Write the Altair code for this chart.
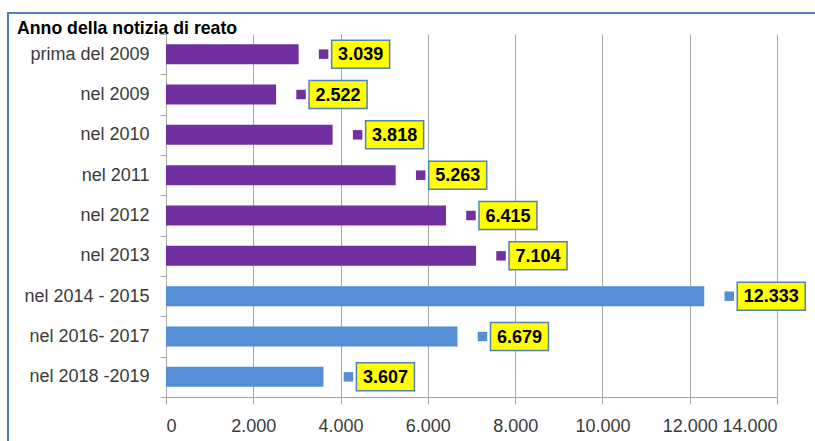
import altair as alt
import pandas as pd

# ---- data ----
categories = ["prima del 2009", "nel 2009", "nel 2010", "nel 2011", "nel 2012",
              "nel 2013", "nel 2014 - 2015", "nel 2016- 2017", "nel 2018 -2019"]
values = [3039, 2522, 3818, 5263, 6415, 7104, 12333, 6679, 3607]
groups = ["prima", "prima", "prima", "prima", "prima", "prima", "dopo", "dopo", "dopo"]
x_ticks = [0, 2000, 4000, 6000, 8000, 10000, 12000, 14000]
title_text = "Anno della notizia di reato"

# ---- layout / style ----
W, H = 611, 363
XMAX = 14000
U = XMAX / W  # data units per pixel
PURPLE = "#7030A0"
BLUE = "#558ED5"
GRID = "#A6A6A6"
FONT = "Liberation Sans"

labels = [f"{v:,}".replace(",", ".") for v in values]
df = pd.DataFrame({"cat": categories, "value": values, "group": groups, "label": labels})

MARK_GAP = 25
BOX_GAP = 33

y_enc_main = alt.Y(
    "cat:N", sort=categories, title=None,
    scale=alt.Scale(paddingInner=0, paddingOuter=0),
    axis=alt.Axis(tickBand="extent", ticks=True, tickSize=6, tickColor=GRID,
                  domainColor=GRID, labelPadding=11, labelFont=FONT,
                  labelFontSize=18, labelColor="#3A3A3A", grid=False),
)
y_enc = alt.Y("cat:N", sort=categories, title=None)
color_enc = alt.Color("group:N", scale=alt.Scale(domain=["prima", "dopo"], range=[PURPLE, BLUE]),
                      legend=None)
x_scale = alt.Scale(domain=[0, XMAX], nice=False)

base = alt.Chart(df)

bars = base.mark_bar(size=20).encode(
    x=alt.X("value:Q", scale=x_scale, title=None,
            axis=alt.Axis(values=x_ticks, grid=True, gridColor=GRID, gridWidth=1,
                          domainColor=GRID, tickColor=GRID, tickSize=7,
                          labelExpr="replace(format(datum.value, ','), ',', '.')",
                          labelPadding=13, labelFont=FONT, labelFontSize=18,
                          labelColor="#3A3A3A")),
    y=y_enc_main,
    color=color_enc,
)

markers = base.mark_square(size=90, opacity=1, xOffset=MARK_GAP).encode(
    x=alt.X("value:Q", scale=x_scale, title=None),
    y=y_enc,
    color=color_enc,
)

boxed = base.transform_calculate(
    b0=f"datum.value + {BOX_GAP} * {U}",
    b1=f"datum.value + ({BOX_GAP} + 8 + 10 * length(datum.label)) * {U}",
    tc=f"datum.value + ({BOX_GAP} + (8 + 10 * length(datum.label)) / 2) * {U}",
)

boxes = boxed.mark_bar(size=28, color="#FFFF00", stroke="#4F81BD", strokeWidth=1.5).encode(
    x=alt.X("b0:Q", scale=x_scale, title=None),
    x2="b1:Q",
    y=y_enc,
)

texts = boxed.mark_text(font=FONT, fontSize=18, fontWeight="bold", color="black",
                        align="center", baseline="middle", dy=1).encode(
    x=alt.X("tc:Q", scale=x_scale, title=None),
    y=y_enc,
    text="label:N",
)

title_layer = alt.Chart(alt.Data(values=[{"t": title_text}])).mark_text(
    font=FONT, fontSize=17.7, fontWeight="bold", color="black",
    align="left", baseline="alphabetic"
).encode(x=alt.value(-149), y=alt.value(0), text="t:N")

border = alt.Chart(alt.Data(values=[{"a": 1}])).mark_rect(
    fillOpacity=0, stroke="#4F81BD", strokeWidth=2
).encode(
    x=alt.value(-158), x2=alt.value(W + 80),
    y=alt.value(-21), y2=alt.value(H + 80),
)

chart = alt.layer(bars, markers, boxes, texts, title_layer, border).properties(
    width=W, height=H,
    padding={"left": 166, "top": 34, "right": 38, "bottom": 44},
    autosize=alt.AutoSizeParams(type="none"),
    background="white",
).configure_view(strokeWidth=0)

chart.save("out.html", embed_options={"renderer": "svg", "actions": False})
